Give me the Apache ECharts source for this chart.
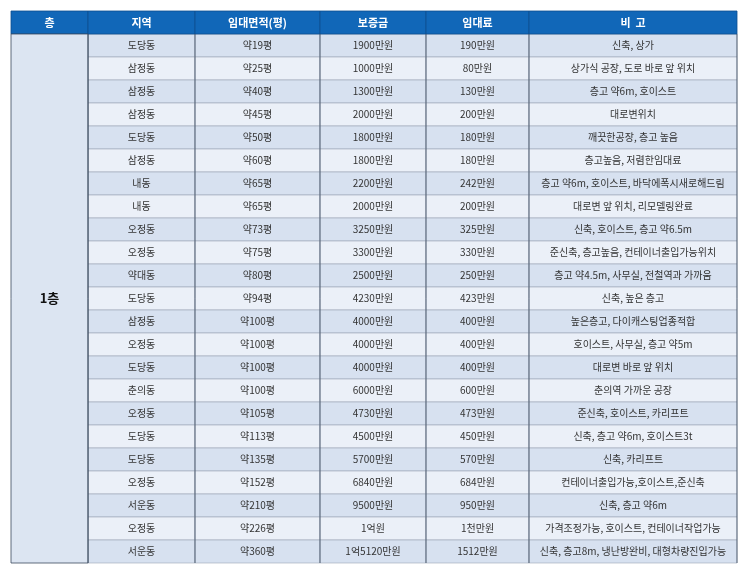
<!DOCTYPE html>
<html><head><meta charset="utf-8">
<script src="https://cdn.jsdelivr.net/npm/echarts@6/dist/echarts.min.js"></script>
<style>html,body{margin:0;padding:0;background:#fff}#main{width:743px;height:577px}</style>
</head><body><div id="main"></div>
<script>
// 표 데이터
var headers = ['층', '지역', '임대면적(평)', '보증금', '임대료', '비  고'];
var floorLabel = '1층';
var regions = ['도당동','삼정동','삼정동','삼정동','도당동','삼정동','내동','내동','오정동','오정동','약대동','도당동','삼정동','오정동','도당동','춘의동','오정동','도당동','도당동','오정동','서운동','오정동','서운동'];
var areas = ['약19평','약25평','약40평','약45평','약50평','약60평','약65평','약65평','약73평','약75평','약80평','약94평','약100평','약100평','약100평','약100평','약105평','약113평','약135평','약152평','약210평','약226평','약360평'];
var deposits = ['1900만원','1000만원','1300만원','2000만원','1800만원','1800만원','2200만원','2000만원','3250만원','3300만원','2500만원','4230만원','4000만원','4000만원','4000만원','6000만원','4730만원','4500만원','5700만원','6840만원','9500만원','1억원','1억5120만원'];
var rents = ['190만원','80만원','130만원','200만원','180만원','180만원','242만원','200만원','325만원','330만원','250만원','423만원','400만원','400만원','400만원','600만원','473만원','450만원','570만원','684만원','950만원','1천만원','1512만원'];
var notes = ['신축, 상가','상가식 공장, 도로 바로 앞 위치','층고 약6m, 호이스트','대로변위치','깨끗한공장, 층고 높음','층고높음, 저렴한임대료','층고 약6m, 호이스트, 바닥에폭시새로해드림','대로변 앞 위치, 리모델링완료','신축, 호이스트, 층고 약6.5m','준신축, 층고높음, 컨테이너출입가능위치','층고 약4.5m, 사무실, 전철역과 가까움','신축, 높은 층고','높은층고, 다이캐스팅업종적합','호이스트, 사무실, 층고 약5m','대로변 바로 앞 위치','춘의역 가까운 공장','준신축, 호이스트, 카리프트','신축, 층고 약6m, 호이스트3t','신축, 카리프트','컨테이너출입가능,호이스트,준신축','신축, 층고 약6m','가격조정가능, 호이스트, 컨테이너작업가능','신축, 층고8m, 냉난방완비, 대형차량진입가능'];

var colEdges = [11, 88, 195, 320, 426, 529, 737];
var headTop = 11, headBottom = 34, rowH = 23;
var font = '"Noto Sans CJK KR", sans-serif';

var chart = echarts.init(document.getElementById('main'));

function renderRow(params, api) {
  var i = api.value(0);
  var cols = [null, regions[i], areas[i], deposits[i], rents[i], notes[i]];
  var top = api.coord([0, headBottom + i * rowH])[1];
  var bg = i % 2 === 0 ? '#d7e1f0' : '#ebf0f8';
  var children = [];
  for (var c = 1; c < 6; c++) {
    var x0 = api.coord([colEdges[c], 0])[0], x1 = api.coord([colEdges[c + 1], 0])[0];
    children.push({type: 'rect', shape: {x: x0, y: top, width: x1 - x0, height: rowH},
      style: {fill: bg, stroke: '#9aa6b6', lineWidth: 0.6}});
    children.push({type: 'text', style: {text: cols[c], x: (x0 + x1) / 2, y: top + rowH / 2,
      align: 'center', verticalAlign: 'middle', fill: '#333', font: '10px ' + font}});
  }
  return {type: 'group', children: children};
}

function renderFrame(params, api) {
  var children = [];
  var yTop = api.coord([0, headTop])[1], yHb = api.coord([0, headBottom])[1];
  var yEnd = api.coord([0, headBottom + regions.length * rowH])[1];
  for (var c = 0; c < 6; c++) {
    var x0 = api.coord([colEdges[c], 0])[0], x1 = api.coord([colEdges[c + 1], 0])[0];
    children.push({type: 'rect', shape: {x: x0, y: yTop, width: x1 - x0, height: yHb - yTop},
      style: {fill: '#1167b8', stroke: '#0d4f8f', lineWidth: 0.8}});
    children.push({type: 'text', style: {text: headers[c], x: (x0 + x1) / 2, y: (yTop + yHb) / 2,
      align: 'center', verticalAlign: 'middle', fill: '#fff', font: 'bold 11px ' + font}});
  }
  var fx0 = api.coord([colEdges[0], 0])[0], fx1 = api.coord([colEdges[1], 0])[0];
  children.push({type: 'rect', shape: {x: fx0, y: yHb, width: fx1 - fx0, height: yEnd - yHb},
    style: {fill: '#dce5f2', stroke: '#3a4a5e', lineWidth: 0.8}});
  children.push({type: 'text', style: {text: floorLabel, x: (fx0 + fx1) / 2, y: (yHb + yEnd) / 2,
    align: 'center', verticalAlign: 'middle', fill: '#111', font: 'bold 13px ' + font}});
  for (var k = 2; k < 7; k++) {
    var xx = api.coord([colEdges[k], 0])[0];
    children.push({type: 'line', shape: {x1: xx, y1: yHb, x2: xx, y2: yEnd}, style: {stroke: '#3a4a5e', lineWidth: 0.8}});
  }
  children.push({type: 'line', shape: {x1: fx1, y1: yHb, x2: fx1, y2: yEnd}, style: {stroke: '#3a4a5e', lineWidth: 0.8}});
  return {type: 'group', children: children};
}

chart.setOption({
  animation: false,
  grid: {left: 0, right: 0, top: 0, bottom: 0},
  xAxis: {type: 'value', min: 0, max: 743, show: false},
  yAxis: {type: 'value', min: 0, max: 577, inverse: true, show: false},
  series: [
    {type: 'custom', renderItem: renderRow, data: regions.map(function (r, i) { return [i]; }), z: 1},
    {type: 'custom', renderItem: renderFrame, data: [[0]], z: 2}
  ]
});
</script>
</body></html>
